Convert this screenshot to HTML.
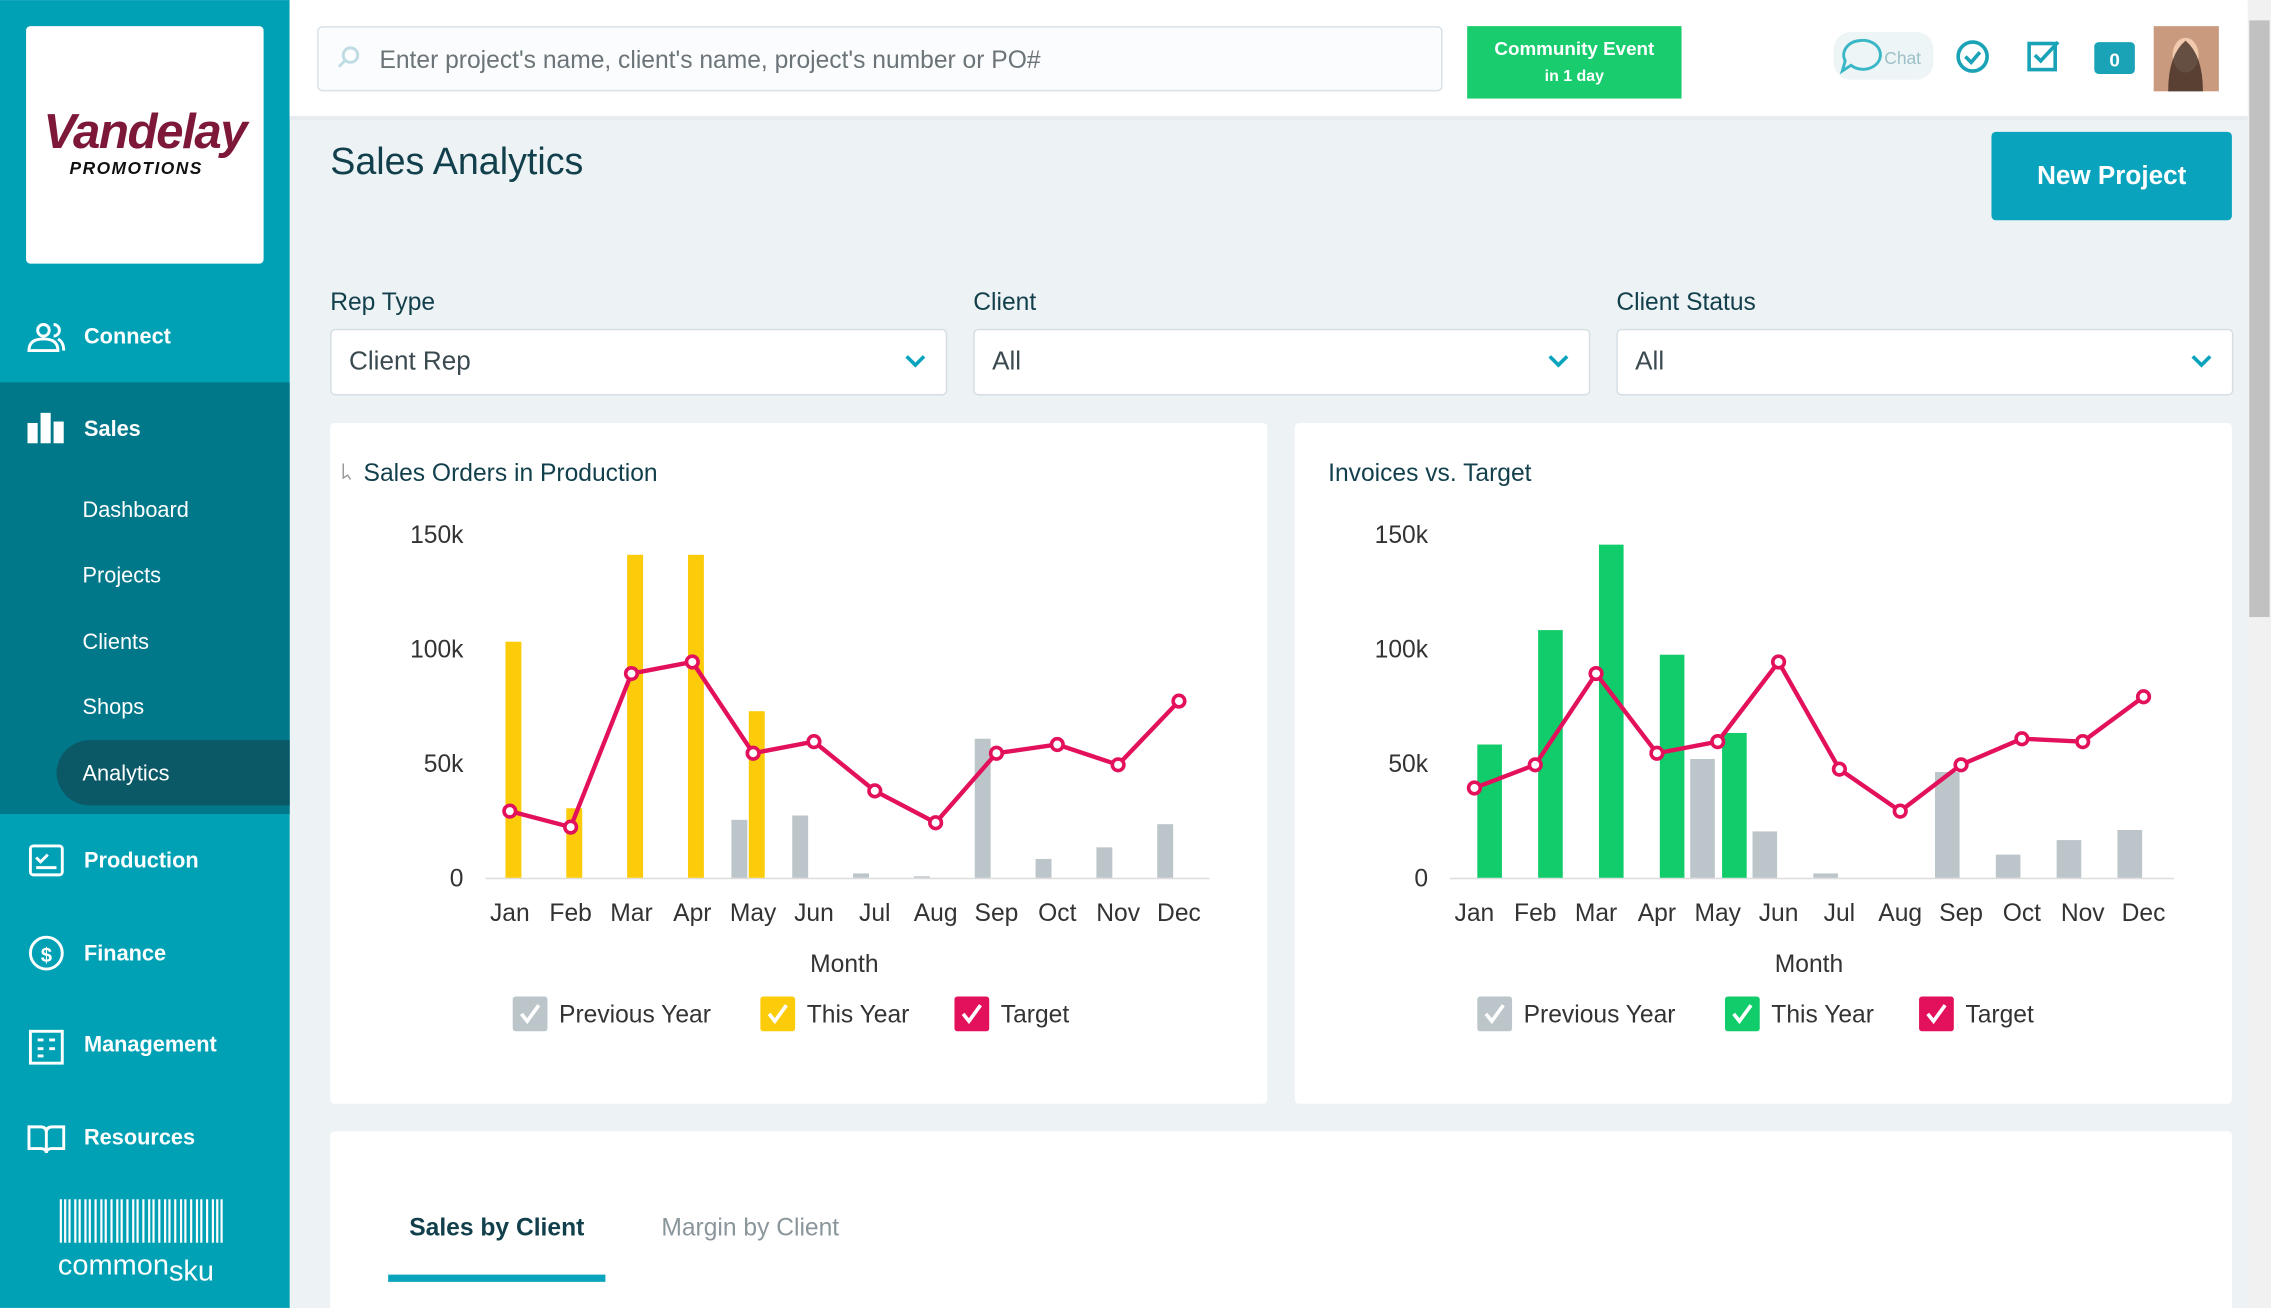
<!DOCTYPE html>
<html><head><meta charset="utf-8"><style>
html,body{margin:0;padding:0;background:#edf2f4;overflow:hidden}
svg{display:block}
text{font-family:"Liberation Sans",sans-serif}
</style></head><body>
<svg width="2271" height="1308" viewBox="0 0 1568 903" xmlns="http://www.w3.org/2000/svg">
<rect width="1568" height="903" fill="#edf2f4"/>
<!-- sidebar -->
<rect x="0" y="0" width="200" height="903" fill="#01a1b5"/>
<rect x="0" y="264" width="200" height="298" fill="#00788a"/>
<path d="M62 511 H200 V556 H62 A23 23 0 0 1 39 533 A23 23 0 0 1 62 511Z" fill="#0b5866"/>
<rect x="18" y="18" width="164" height="164" rx="3" fill="#fff"/>
<text x="100" y="102" text-anchor="middle" font-family="Liberation Serif" font-style="italic" font-weight="bold" font-size="34" fill="#7d1839" letter-spacing="-1">Vandelay</text>
<text x="94" y="120" text-anchor="middle" font-style="italic" font-weight="bold" font-size="12" fill="#111" letter-spacing="1">PROMOTIONS</text>
<g fill="#fff" font-weight="bold" font-size="15">
<text x="58" y="237">Connect</text>
<text x="58" y="301">Sales</text>
<text x="58" y="599">Production</text>
<text x="58" y="663">Finance</text>
<text x="58" y="726">Management</text>
<text x="58" y="790">Resources</text>
</g>
<g fill="#fff" font-size="15">
<text x="57" y="357">Dashboard</text>
<text x="57" y="402">Projects</text>
<text x="57" y="448">Clients</text>
<text x="57" y="493">Shops</text>
<text x="57" y="539">Analytics</text>
</g>
<!-- icons -->
<g fill="none" stroke="#fff" stroke-width="2">
<circle cx="30" cy="228" r="4"/><path d="M20 242 q0-8 10-8 q10 0 10 8z"/><path d="M37 224 a4 4 0 0 1 0 8 M40 234 q4 2 4 8"/>
<rect x="21" y="584" width="22" height="20" rx="2"/><path d="M25 592 l3 3 5-5 M25 599 h14"/>
<circle cx="32" cy="658" r="11"/>
<rect x="21" y="712" width="22" height="22"/><path d="M26 718 h4 M26 724 h4 M26 729 h4 M34 718 h4 M34 724 h4"/>
<path d="M20 778 h8 q4 0 4 4 v14 q0-3-4-3 h-8z M44 778 h-8 q-4 0-4 4 v14 q0-3 4-3 h8z"/>
</g>
<text x="32" y="664" text-anchor="middle" fill="#fff" font-size="14" font-weight="bold">$</text>
<g fill="#fff"><rect x="19" y="292" width="7" height="14"/><rect x="28" y="285" width="7" height="21"/><rect x="37" y="291" width="7" height="15"/></g>
<g stroke="#fff" stroke-width="1.5">
<path d="M42 828v30M45 828v30M48 828v30M52 828v30M55 828v30M59 828v30M62 828v30M66 828v30M70 828v30M73 828v30M77 828v30M81 828v30M84 828v30M88 828v30M92 828v30M95 828v30M99 828v30M103 828v30M106 828v30M110 828v30M114 828v30M117 828v30M121 828v30M125 828v30M128 828v30M132 828v30M136 828v30M139 828v30M143 828v30M147 828v30M150 828v30M153 828v30"/>
</g>
<text x="40" y="880" fill="#fff" font-size="20">common<tspan dy="4">sku</tspan></text>
<!-- topbar -->
<rect x="200" y="0" width="1352" height="80" fill="#fff"/>
<rect x="200" y="80" width="1352" height="3" fill="#e6ecef"/>
<rect x="219.5" y="18.5" width="776" height="44" rx="3" fill="#fbfcfd" stroke="#d7e2e8"/>
<circle cx="242" cy="38" r="5" fill="none" stroke="#bfdbe3" stroke-width="2"/><path d="M238 42 l-4 4" stroke="#bfdbe3" stroke-width="2"/>
<text x="262" y="47" font-size="17" fill="#6b7478">Enter project's name, client's name, project's number or PO#</text>
<rect x="1013" y="18" width="148" height="50" fill="#19cc6e"/>
<text x="1087" y="38" text-anchor="middle" fill="#fff" font-size="13" font-weight="bold">Community Event</text>
<text x="1087" y="56" text-anchor="middle" fill="#fff" font-size="11" font-weight="bold">in 1 day</text>
<rect x="1266" y="22" width="69" height="33" rx="12" fill="#eef5f7"/>
<path d="M1284 28 a12 10 0 1 1 -6 17 l-6 4 2-7 a12 10 0 0 1 10-14z" fill="none" stroke="#3ab7c7" stroke-width="2"/>
<text x="1301" y="44" font-size="12" fill="#9bbfc6">Chat</text>
<circle cx="1362" cy="39" r="10" fill="none" stroke="#1aa3b6" stroke-width="2.5"/><path d="M1357 39 l4 4 6-7" fill="none" stroke="#1aa3b6" stroke-width="2.5"/>
<rect x="1401" y="30" width="18" height="18" fill="none" stroke="#1aa3b6" stroke-width="2.5"/><path d="M1405 38 l4 4 12-13" fill="none" stroke="#1aa3b6" stroke-width="2.5"/>
<rect x="1446" y="29" width="28" height="22" rx="3" fill="#1aa3b6"/><text x="1460" y="46" text-anchor="middle" fill="#fff" font-size="13" font-weight="bold">0</text>
<rect x="1487" y="18" width="45" height="45" fill="#c99a7d"/><ellipse cx="1509" cy="38" rx="9" ry="12" fill="#f1c9ad"/><path d="M1497 63 q0-25 12-35 q12 10 12 35" fill="#2a1a14" opacity=".7"/>
<rect x="1552" y="0" width="16" height="903" fill="#f1f1f1"/><rect x="1553" y="14" width="14" height="412" fill="#c1c1c1"/>
<!-- header -->
<text x="228" y="120" font-size="26" fill="#123f4c">Sales Analytics</text>
<rect x="1375" y="91" width="166" height="61" rx="3" fill="#0aa3bd"/>
<text x="1458" y="127" text-anchor="middle" fill="#fff" font-size="18" font-weight="bold">New Project</text>
<g font-size="17" fill="#123f4c">
<text x="228" y="214">Rep Type</text><text x="672" y="214">Client</text><text x="1116" y="214">Client Status</text>
</g>
<g fill="#fff" stroke="#d4dee3"><rect x="228.5" y="227.5" width="425" height="45" rx="3"/><rect x="672.5" y="227.5" width="425" height="45" rx="3"/><rect x="1116.5" y="227.5" width="425" height="45" rx="3"/></g>
<g font-size="18" fill="#3b4a50"><text x="241" y="255">Client Rep</text><text x="685" y="255">All</text><text x="1129" y="255">All</text></g>
<g fill="none" stroke="#0aa3bd" stroke-width="2.5"><path d="M626 246 l6 6 6-6"/><path d="M1070 246 l6 6 6-6"/><path d="M1514 246 l6 6 6-6"/></g>
<!-- cards -->
<rect x="228" y="292" width="647" height="470" rx="3" fill="#fff"/>
<rect x="894" y="292" width="647" height="470" rx="3" fill="#fff"/>
<rect x="228" y="781" width="1313" height="130" rx="3" fill="#fff"/>
<text x="251" y="332" font-size="17" fill="#123f4c">Sales Orders in Production</text>
<path d="M237 320 v10 l3-2 2 3" fill="none" stroke="#999" stroke-width="1"/>
<text x="917" y="332" font-size="17" fill="#123f4c">Invoices vs. Target</text>
<!-- chart1 -->
<g font-size="17" fill="#333" text-anchor="end">
<text x="320" y="375">150k</text><text x="320" y="454">100k</text><text x="320" y="533">50k</text><text x="320" y="612">0</text>
<text x="986" y="375">150k</text><text x="986" y="454">100k</text><text x="986" y="533">50k</text><text x="986" y="612">0</text>
</g>
<path d="M335 606.5 H835 M1001 606.5 H1501" stroke="#ddd"/>
<g fill="#bcc5ca">
<rect x="505" y="566" width="11" height="40"/><rect x="547" y="563" width="11" height="43"/><rect x="589" y="603" width="11" height="3"/><rect x="631" y="605" width="11" height="1"/><rect x="673" y="510" width="11" height="96"/><rect x="715" y="593" width="11" height="13"/><rect x="757" y="585" width="11" height="21"/><rect x="799" y="569" width="11" height="37"/>
<rect x="1167" y="524" width="17" height="82"/><rect x="1210" y="574" width="17" height="32"/><rect x="1252" y="603" width="17" height="3"/><rect x="1336" y="533" width="17" height="73"/><rect x="1378" y="590" width="17" height="16"/><rect x="1420" y="580" width="17" height="26"/><rect x="1462" y="573" width="17" height="33"/>
</g>
<g fill="#fccc0a">
<rect x="349" y="443" width="11" height="163"/><rect x="391" y="558" width="11" height="48"/><rect x="433" y="383" width="11" height="223"/><rect x="475" y="383" width="11" height="223"/><rect x="517" y="491" width="11" height="115"/>
</g>
<g fill="#11cc6b">
<rect x="1020" y="514" width="17" height="92"/><rect x="1062" y="435" width="17" height="171"/><rect x="1104" y="376" width="17" height="230"/><rect x="1146" y="452" width="17" height="154"/><rect x="1189" y="506" width="17" height="100"/>
</g>
<g fill="none" stroke="#e3115b" stroke-width="3">
<polyline points="352,560 394,571 436,465 478,457 520,520 562,512 604,546 646,568 688,520 730,514 772,528 814,484"/>
<polyline points="1018,544 1060,528 1102,465 1144,520 1186,512 1228,457 1270,531 1312,560 1354,528 1396,510 1438,512 1480,481"/>
</g>
<g fill="#fff" stroke="#e3115b" stroke-width="2.5">
<circle cx="352" cy="560" r="4"/><circle cx="394" cy="571" r="4"/><circle cx="436" cy="465" r="4"/><circle cx="478" cy="457" r="4"/><circle cx="520" cy="520" r="4"/><circle cx="562" cy="512" r="4"/><circle cx="604" cy="546" r="4"/><circle cx="646" cy="568" r="4"/><circle cx="688" cy="520" r="4"/><circle cx="730" cy="514" r="4"/><circle cx="772" cy="528" r="4"/><circle cx="814" cy="484" r="4"/>
<circle cx="1018" cy="544" r="4"/><circle cx="1060" cy="528" r="4"/><circle cx="1102" cy="465" r="4"/><circle cx="1144" cy="520" r="4"/><circle cx="1186" cy="512" r="4"/><circle cx="1228" cy="457" r="4"/><circle cx="1270" cy="531" r="4"/><circle cx="1312" cy="560" r="4"/><circle cx="1354" cy="528" r="4"/><circle cx="1396" cy="510" r="4"/><circle cx="1438" cy="512" r="4"/><circle cx="1480" cy="481" r="4"/>
</g>
<g font-size="17" fill="#333" text-anchor="middle">
<text x="352" y="636">Jan</text><text x="394" y="636">Feb</text><text x="436" y="636">Mar</text><text x="478" y="636">Apr</text><text x="520" y="636">May</text><text x="562" y="636">Jun</text><text x="604" y="636">Jul</text><text x="646" y="636">Aug</text><text x="688" y="636">Sep</text><text x="730" y="636">Oct</text><text x="772" y="636">Nov</text><text x="814" y="636">Dec</text>
<text x="583" y="671">Month</text>
<text x="1018" y="636">Jan</text><text x="1060" y="636">Feb</text><text x="1102" y="636">Mar</text><text x="1144" y="636">Apr</text><text x="1186" y="636">May</text><text x="1228" y="636">Jun</text><text x="1270" y="636">Jul</text><text x="1312" y="636">Aug</text><text x="1354" y="636">Sep</text><text x="1396" y="636">Oct</text><text x="1438" y="636">Nov</text><text x="1480" y="636">Dec</text>
<text x="1249" y="671">Month</text>
</g>
<!-- legends -->
<rect x="354" y="688" width="24" height="24" rx="2" fill="#bcc5ca"/>
<rect x="525" y="688" width="24" height="24" rx="2" fill="#fccc0a"/>
<rect x="659" y="688" width="24" height="24" rx="2" fill="#e3115b"/>
<rect x="1020" y="688" width="24" height="24" rx="2" fill="#bcc5ca"/>
<rect x="1191" y="688" width="24" height="24" rx="2" fill="#11cc6b"/>
<rect x="1325" y="688" width="24" height="24" rx="2" fill="#e3115b"/>
<g fill="none" stroke="#fff" stroke-width="2.5">
<path d="M360 700 l4 5 8-11"/><path d="M531 700 l4 5 8-11"/><path d="M665 700 l4 5 8-11"/>
<path d="M1026 700 l4 5 8-11"/><path d="M1197 700 l4 5 8-11"/><path d="M1331 700 l4 5 8-11"/>
</g>
<g font-size="17" fill="#333">
<text x="386" y="706">Previous Year</text><text x="557" y="706">This Year</text><text x="691" y="706">Target</text>
<text x="1052" y="706">Previous Year</text><text x="1223" y="706">This Year</text><text x="1357" y="706">Target</text>
</g>
<!-- tabs -->
<text x="343" y="853" text-anchor="middle" font-size="17" font-weight="bold" fill="#123f4c">Sales by Client</text>
<text x="518" y="853" text-anchor="middle" font-size="17" fill="#8a969b">Margin by Client</text>
<rect x="268" y="880" width="150" height="5" fill="#0aa3bd"/>
</svg>
</body></html>
